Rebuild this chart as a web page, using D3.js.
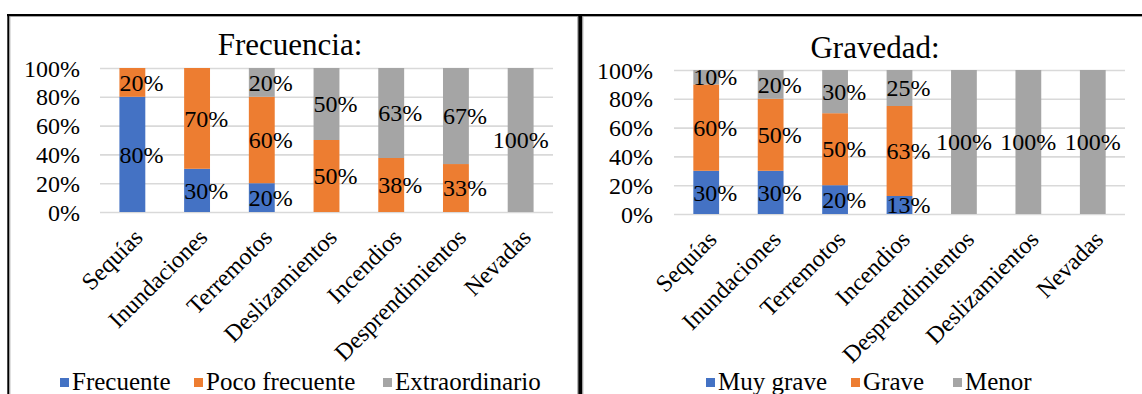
<!DOCTYPE html>
<html>
<head>
<meta charset="utf-8">
<script src="https://cdn.jsdelivr.net/npm/d3@7"></script>
<style>
  html, body { margin: 0; padding: 0; background: #fff; }
  svg { display: block; }
</style>
</head>
<body>
<svg id="chart" width="1142" height="394"></svg>
<script>
// ---- Data: Frecuencia ----
const frecCategories = ["Sequías", "Inundaciones", "Terremotos", "Deslizamientos", "Incendios", "Desprendimientos", "Nevadas"];
const frecuente      = [80, 30, 20, 0, 0, 0, 0];
const pocoFrecuente  = [20, 70, 60, 50, 37.5, 33.3, 0];
const extraordinario = [0, 0, 20, 50, 62.5, 66.7, 100];
const frecSeriesNames = ["Frecuente", "Poco frecuente", "Extraordinario"];

// ---- Data: Gravedad ----
const gravCategories = ["Sequías", "Inundaciones", "Terremotos", "Incendios", "Desprendimientos", "Deslizamientos", "Nevadas"];
const muyGrave = [30, 30, 20, 12.5, 0, 0, 0];
const grave    = [60, 50, 50, 62.5, 0, 0, 0];
const menor    = [10, 20, 30, 25, 100, 100, 100];
const gravSeriesNames = ["Muy grave", "Grave", "Menor"];

const yTicks = [0, 20, 40, 60, 80, 100];
const seriesColors = ["#4472C4", "#ED7D31", "#A5A5A5"];

const FONT = '"Liberation Serif"';
const svg = d3.select("#chart").style("font-family", FONT);
const pct = v => d3.format(".0f")(v) + "%";

// Frame lines around the two panels
const frame = svg.append("g");
frame.append("rect").attr("x", 7).attr("y", 14).attr("width", 1135).attr("height", 2.2).attr("fill", "#000");
frame.append("rect").attr("x", 9).attr("y", 16.2).attr("width", 1133).attr("height", 0.8).attr("fill", "#999");
frame.append("rect").attr("x", 7.3).attr("y", 14).attr("width", 2).attr("height", 380).attr("fill", "#000");
frame.append("rect").attr("x", 9.3).attr("y", 16.2).attr("width", 1).attr("height", 378).attr("fill", "#999");
frame.append("rect").attr("x", 577.3).attr("y", 16.2).attr("width", 1).attr("height", 378).attr("fill", "#999");
frame.append("rect").attr("x", 578.3).attr("y", 14).attr("width", 4).attr("height", 380).attr("fill", "#000");
frame.append("rect").attr("x", 582.3).attr("y", 16.2).attr("width", 1).attr("height", 378).attr("fill", "#999");

function drawPanel(p) {
  const g = svg.append("g");

  const rows = p.categories.map((c, i) => {
    const r = { cat: c };
    p.names.forEach((n, k) => { r[n] = p.values[k][i]; });
    return r;
  });

  const x = d3.scaleBand()
    .domain(p.categories)
    .range([p.left, p.right])
    .paddingInner(0.6)
    .paddingOuter(0.3);

  const y = d3.scaleLinear().domain([0, 100]).range([p.bottom, p.top]);

  // gridlines
  g.append("g")
    .attr("transform", `translate(${p.left},0)`)
    .call(d3.axisLeft(y).tickValues(yTicks).tickSize(-(p.right - p.left)).tickFormat(""))
    .call(a => a.select(".domain").remove())
    .call(a => a.selectAll("line").attr("stroke", "#D9D9D9").attr("stroke-width", 1.6));

  // y tick labels
  g.append("g")
    .attr("transform", `translate(${p.tickRight},0)`)
    .call(d3.axisLeft(y).tickValues(yTicks).tickSize(0).tickPadding(0).tickFormat(d => d + "%"))
    .call(a => a.select(".domain").remove())
    .call(a => a.attr("font-family", null).attr("font-size", null))
    .call(a => a.selectAll("text")
      .style("font-family", FONT)
      .style("font-size", "24px").attr("fill", "#000").attr("dy", "0.34em"));

  // stacked bars
  const stacked = d3.stack().keys(p.names)(rows);
  const layers = g.append("g").selectAll("g").data(stacked).join("g")
    .attr("fill", (d, i) => seriesColors[i]);
  layers.selectAll("rect").data(d => d).join("rect")
    .attr("x", d => x(d.data.cat))
    .attr("width", x.bandwidth())
    .attr("y", d => y(d[1]))
    .attr("height", d => y(d[0]) - y(d[1]));

  // value labels
  const lab = g.append("g");
  stacked.forEach(layer => {
    layer.forEach(d => {
      const v = d[1] - d[0];
      if (v <= 0) return;
      const txt = pct(v);
      const wide = txt.length > 3;
      lab.append("text")
        .attr("x", wide ? x(d.data.cat) + x.bandwidth() / 2 : x(d.data.cat))
        .attr("y", (y(d[0]) + y(d[1])) / 2)
        .attr("dy", "0.34em")
        .attr("text-anchor", wide ? "middle" : "start")
        .style("font-family", FONT).style("font-size", "24px").attr("fill", "#000")
        .text(txt);
    });
  });

  // category labels
  g.append("g")
    .attr("transform", `translate(0,${p.bottom})`)
    .call(d3.axisBottom(x).tickSize(0).tickPadding(0))
    .call(a => a.select(".domain").remove())
    .call(a => a.attr("font-family", null).attr("font-size", null))
    .call(a => a.selectAll("text")
      .style("font-family", FONT)
      .style("font-size", "24px").attr("fill", "#000")
      .attr("text-anchor", "end")
      .attr("x", 0).attr("y", 0).attr("dy", "0.34em")
      .attr("transform", "translate(6,21) rotate(-45)"));

  // title
  g.append("text")
    .attr("x", p.titleX).attr("y", p.titleY)
    .attr("text-anchor", "middle")
    .style("font-family", FONT).style("font-size", "31px").attr("fill", "#000")
    .text(p.title);

  // legend
  const leg = g.append("g");
  p.names.forEach((n, i) => {
    const lx = p.legendX[i];
    leg.append("rect").attr("x", lx).attr("y", 378).attr("width", 9).attr("height", 9)
      .attr("fill", seriesColors[i]);
    leg.append("text").attr("x", lx + 12).attr("y", 390)
      .style("font-family", FONT).style("font-size", "25px").attr("fill", "#000").text(n);
  });
}

drawPanel({
  title: "Frecuencia:", titleX: 290, titleY: 55,
  categories: frecCategories,
  names: frecSeriesNames,
  values: [frecuente, pocoFrecuente, extraordinario],
  left: 100, right: 553, top: 68, bottom: 212, tickRight: 80,
  legendX: [60, 194, 383]
});

drawPanel({
  title: "Gravedad:", titleX: 875, titleY: 58,
  categories: gravCategories,
  names: gravSeriesNames,
  values: [muyGrave, grave, menor],
  left: 674, right: 1125, top: 70, bottom: 214, tickRight: 653,
  legendX: [706, 851, 953]
});
</script>
</body>
</html>
